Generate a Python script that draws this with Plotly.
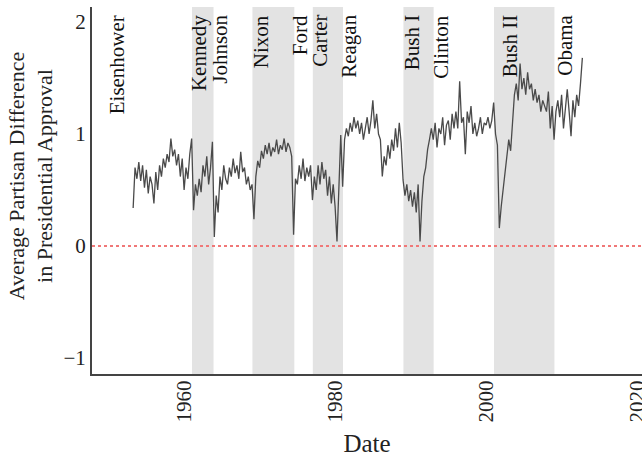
import plotly.graph_objects as go

# Quarterly readings (Jan, Apr, Jul, Oct) of average partisan difference
start_year = 1953
start_quarter = 1  # first value is April 1953
values_by_year = {
    1953: [0.34, 0.70, 0.60],
    1954: [0.75, 0.58, 0.72, 0.52],
    1955: [0.68, 0.47, 0.62, 0.55],
    1956: [0.38, 0.66, 0.50, 0.72],
    1957: [0.62, 0.78, 0.70, 0.82],
    1958: [0.75, 0.96, 0.80, 0.86],
    1959: [0.72, 0.82, 0.62, 0.78],
    1960: [0.50, 0.70, 0.60, 0.82],
    1961: [0.96, 0.32, 0.55, 0.45],
    1962: [0.60, 0.48, 0.72, 0.62],
    1963: [0.80, 0.55, 0.70, 0.93],
    1964: [0.08, 0.45, 0.30, 0.62],
    1965: [0.50, 0.72, 0.60, 0.55],
    1966: [0.70, 0.62, 0.78, 0.65],
    1967: [0.72, 0.60, 0.84, 0.66],
    1968: [0.70, 0.55, 0.62, 0.50],
    1969: [0.55, 0.24, 0.62, 0.76],
    1970: [0.70, 0.85, 0.78, 0.90],
    1971: [0.82, 0.92, 0.80, 0.88],
    1972: [0.84, 0.95, 0.82, 0.90],
    1973: [0.86, 0.96, 0.84, 0.92],
    1974: [0.88, 0.80, 0.10, 0.60],
    1975: [0.55, 0.72, 0.60, 0.78],
    1976: [0.58, 0.70, 0.62, 0.72],
    1977: [0.41, 0.62, 0.50, 0.72],
    1978: [0.55, 0.75, 0.60, 0.68],
    1979: [0.45, 0.62, 0.38, 0.55],
    1980: [0.35, 0.04, 0.50, 0.99],
    1981: [0.53, 0.95, 1.05, 0.98],
    1982: [1.10, 1.02, 1.15, 1.05],
    1983: [1.12, 1.00, 1.10, 0.95],
    1984: [1.05, 1.15, 1.00, 1.12],
    1985: [1.30, 1.05, 1.18, 1.00],
    1986: [0.95, 0.62, 0.80, 0.72],
    1987: [0.90, 0.78, 0.95, 0.85],
    1988: [1.05, 0.88, 1.10, 0.92],
    1989: [0.59, 0.45, 0.55, 0.40],
    1990: [0.50, 0.35, 0.48, 0.30],
    1991: [0.55, 0.04, 0.40, 0.62],
    1992: [0.70, 0.86, 0.95, 1.05],
    1993: [0.95, 1.10, 0.88, 1.05],
    1994: [1.00, 1.15, 0.90, 1.08],
    1995: [1.12, 0.95, 1.18, 1.05],
    1996: [1.20, 1.05, 1.47, 1.10],
    1997: [1.15, 0.82, 1.20, 1.10],
    1998: [1.25, 1.00, 1.10, 0.98],
    1999: [1.05, 1.15, 1.00, 1.10],
    2000: [1.08, 1.15, 1.05, 1.12],
    2001: [1.28, 1.00, 0.90, 0.16],
    2002: [0.35, 0.50, 0.65, 0.80],
    2003: [0.95, 0.85, 1.10, 1.35],
    2004: [1.45, 1.30, 1.63, 1.40],
    2005: [1.50, 1.35, 1.55, 1.40],
    2006: [1.45, 1.30, 1.40, 1.28],
    2007: [1.35, 1.20, 1.30, 1.25],
    2008: [1.20, 1.38, 1.05, 1.25],
    2009: [0.95, 1.20, 1.30, 1.15],
    2010: [1.35, 1.05, 1.25, 1.40],
    2011: [1.20, 0.98, 1.30, 1.15],
    2012: [1.35, 1.25, 1.45, 1.68],
}

# Shaded (Republican) administrations: start, end
shade_starts = [1961.05, 1969.05, 1977.05, 1989.05, 2001.05]
shade_ends = [1963.9, 1974.6, 1981.05, 1993.05, 2009.05]

# President labels and their positions (year)
presidents = ["Eisenhower", "Kennedy", "Johnson", "Nixon", "Ford", "Carter",
              "Reagan", "Bush I", "Clinton", "Bush II", "Obama"]
president_pos = [1951.1, 1962.0, 1964.8, 1970.3, 1975.4, 1978.0,
                 1981.9, 1990.3, 1994.0, 2003.2, 2010.5]

x_ticks = [1960, 1980, 2000, 2020]
y_ticks = [-1, 0, 1, 2]

# build series
dates, vals = [], []
for yr, qv in values_by_year.items():
    offset = start_quarter if yr == start_year else 0
    for i, v in enumerate(qv):
        dates.append(yr + (i + offset) * 0.25)
        vals.append(v)

FONT = "Liberation Serif"

fig = go.Figure()
fig.add_trace(go.Scatter(x=dates, y=vals, mode="lines",
                         line=dict(color="#4a4a4a", width=1.3),
                         showlegend=False, hoverinfo="skip"))

for s, e in zip(shade_starts, shade_ends):
    fig.add_shape(type="rect", xref="x", yref="paper", x0=s, x1=e, y0=0, y1=1,
                  fillcolor="#e3e3e3", line=dict(width=0), layer="below")

fig.add_shape(type="line", xref="paper", yref="y", x0=0, x1=1, y0=0, y1=0,
              line=dict(color="#f07878", width=2, dash="dot"))

for name, px in zip(presidents, president_pos):
    fig.add_annotation(x=px, y=0.984, xref="x", yref="paper", text=name,
                       textangle=-90, showarrow=False, xanchor="center",
                       yanchor="top", font=dict(family=FONT, size=21, color="#111"))

fig.add_annotation(x=-0.112, y=0.54, xref="paper", yref="paper",
                   text="Average Partisan Difference<br>in Presidential Approval",
                   textangle=-90, showarrow=False, xanchor="center", yanchor="middle",
                   font=dict(family=FONT, size=22, color="#222"))

fig.update_layout(
    template="none",
    width=642, height=457,
    margin=dict(l=92, r=0, t=7, b=83),
    plot_bgcolor="white", paper_bgcolor="white",
    font=dict(family=FONT, size=21, color="#222"),
    xaxis=dict(range=[1947.8, 2020.65], tickvals=x_ticks, tickangle=-90,
               automargin=False,
               showgrid=False, zeroline=False, showline=True, linecolor="#444",
               linewidth=2, ticks="", ticklabelstandoff=-4,
               ticklabeloverflow="allow",
               title=dict(text="Date", standoff=21),
               tickfont=dict(size=21)),
    yaxis=dict(range=[-1.143, 2.134], tickvals=y_ticks, showgrid=False,
               automargin=False,
               zeroline=False, showline=True, linecolor="#444", linewidth=2,
               ticks="", tickfont=dict(size=21)),
)

fig.write_html(
    "out.html", config={"displayModeBar": False},
    post_script=("document.body.style.margin='0px';"
                 "document.body.style.overflow='hidden';"
                 "document.documentElement.style.overflow='hidden';"),
)
